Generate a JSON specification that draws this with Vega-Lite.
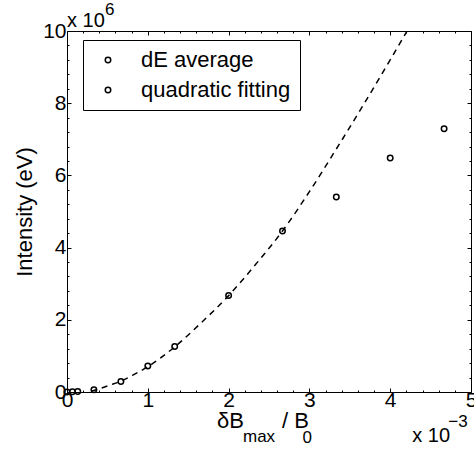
{
  "$schema": "https://vega.github.io/schema/vega-lite/v6.json",
  "width": 404,
  "height": 361,
  "autosize": {"type": "none"},
  "padding": {"left": 67, "top": 31, "right": 3, "bottom": 60},
  "background": "white",
  "config": {
    "view": {"stroke": "black", "strokeWidth": 1},
    "font": "Liberation Sans",
    "axis": {
      "domain": false,
      "grid": false,
      "labelFont": "Liberation Sans",
      "labelFontSize": 21,
      "labelColor": "black",
      "tickColor": "black",
      "tickWidth": 1,
      "labelOverlap": false,
      "labelFlush": false,
      "titleFont": "Liberation Sans",
      "titleFontSize": 22,
      "titleFontWeight": "normal",
      "titleColor": "black"
    },
    "legend": {
      "orient": "none", "legendX": 16, "legendY": 9,
      "strokeColor": "black", "fillColor": "white",
      "padding": 9, "rowPadding": 8,
      "labelFont": "Liberation Sans", "labelFontSize": 22, "labelColor": "black",
      "labelLimit": 300,
      "symbolSize": 30, "symbolStrokeWidth": 1.5, "symbolOffset": 5, "labelOffset": 22
    },
    "text": {"font": "Liberation Sans", "color": "black"}
  },
  "datasets": {
    "pts": [
      {"x": 0.0, "y": 0.0, "series": "dE average"},
      {"x": 0.067, "y": 0.005, "series": "dE average"},
      {"x": 0.133, "y": 0.015, "series": "dE average"},
      {"x": 0.333, "y": 0.06, "series": "dE average"},
      {"x": 0.667, "y": 0.29, "series": "dE average"},
      {"x": 1.0, "y": 0.72, "series": "dE average"},
      {"x": 1.333, "y": 1.26, "series": "dE average"},
      {"x": 2.0, "y": 2.67, "series": "dE average"},
      {"x": 2.667, "y": 4.46, "series": "dE average"},
      {"x": 3.333, "y": 5.40, "series": "dE average"},
      {"x": 4.0, "y": 6.48, "series": "dE average"},
      {"x": 4.667, "y": 7.29, "series": "dE average"}
    ],
    "fit": [
      {"x": 0.30, "y": 0.02, "series": "quadratic fitting"},
      {"x": 0.40, "y": 0.09, "series": "quadratic fitting"},
      {"x": 0.53, "y": 0.19, "series": "quadratic fitting"},
      {"x": 0.667, "y": 0.30, "series": "quadratic fitting"},
      {"x": 0.80, "y": 0.45, "series": "quadratic fitting"},
      {"x": 1.0, "y": 0.70, "series": "quadratic fitting"},
      {"x": 1.167, "y": 0.96, "series": "quadratic fitting"},
      {"x": 1.333, "y": 1.25, "series": "quadratic fitting"},
      {"x": 1.667, "y": 1.93, "series": "quadratic fitting"},
      {"x": 2.0, "y": 2.67, "series": "quadratic fitting"},
      {"x": 2.333, "y": 3.53, "series": "quadratic fitting"},
      {"x": 2.667, "y": 4.46, "series": "quadratic fitting"},
      {"x": 3.0, "y": 5.55, "series": "quadratic fitting"},
      {"x": 3.333, "y": 6.73, "series": "quadratic fitting"},
      {"x": 3.667, "y": 7.95, "series": "quadratic fitting"},
      {"x": 4.0, "y": 9.2, "series": "quadratic fitting"},
      {"x": 4.3, "y": 10.35, "series": "quadratic fitting"}
    ]
  },
  "resolve": {"axis": {"x": "independent", "y": "independent"}},
  "layer": [
    {
      "data": {"name": "pts"},
      "mark": {"type": "point", "shape": "circle", "filled": false, "size": 30, "strokeWidth": 1.5, "opacity": 1},
      "encoding": {
        "x": {
          "field": "x", "type": "quantitative",
          "scale": {"domain": [0, 5], "nice": false, "zero": false},
          "axis": {
            "orient": "bottom", "title": null,
            "values": [0,0.2,0.4,0.6,0.8,1,1.2,1.4,1.6,1.8,2,2.2,2.4,2.6,2.8,3,3.2,3.4,3.6,3.8,4,4.2,4.4,4.6,4.8,5],
            "labelExpr": "datum.value % 1 === 0 ? '' + datum.value : ''",
            "tickSize": {"condition": {"test": "datum.value % 1 === 0", "value": -4}, "value": -2},
            "labelPadding": 1
          }
        },
        "y": {
          "field": "y", "type": "quantitative",
          "scale": {"domain": [0, 10], "nice": false, "zero": false},
          "axis": {
            "orient": "left", "title": "Intensity (eV)",
            "values": [0,0.4,0.8,1.2,1.6,2,2.4,2.8,3.2,3.6,4,4.4,4.8,5.2,5.6,6,6.4,6.8,7.2,7.6,8,8.4,8.8,9.2,9.6,10],
            "labelExpr": "datum.value % 2 === 0 ? '' + datum.value : ''",
            "tickSize": {"condition": {"test": "datum.value % 2 === 0", "value": -4}, "value": -2},
            "labelPadding": 5,
            "titlePadding": 6
          }
        },
        "color": {
          "field": "series", "type": "nominal",
          "scale": {"domain": ["dE average", "quadratic fitting"], "range": ["black", "black"]},
          "legend": {"title": null}
        }
      }
    },
    {
      "data": {"name": "fit"},
      "mark": {"type": "line", "strokeDash": [6, 5], "strokeWidth": 1.5, "clip": true, "interpolate": "monotone"},
      "encoding": {
        "x": {
          "field": "x", "type": "quantitative",
          "axis": {
            "orient": "top", "title": null, "labels": false,
            "values": [0,0.2,0.4,0.6,0.8,1,1.2,1.4,1.6,1.8,2,2.2,2.4,2.6,2.8,3,3.2,3.4,3.6,3.8,4,4.2,4.4,4.6,4.8,5],
            "tickSize": {"condition": {"test": "datum.value % 1 === 0", "value": -4}, "value": -2}
          }
        },
        "y": {
          "field": "y", "type": "quantitative",
          "axis": {
            "orient": "right", "title": null, "labels": false,
            "values": [0,0.4,0.8,1.2,1.6,2,2.4,2.8,3.2,3.6,4,4.4,4.8,5.2,5.6,6,6.4,6.8,7.2,7.6,8,8.4,8.8,9.2,9.6,10],
            "tickSize": {"condition": {"test": "datum.value % 2 === 0", "value": -4}, "value": -2}
          }
        },
        "color": {"field": "series", "type": "nominal", "legend": null}
      }
    },
    {
      "data": {"values": [{}]},
      "mark": {"type": "text", "text": "δB", "align": "left", "baseline": "alphabetic", "dx": -11.6, "dy": 36.3, "fontSize": 22},
      "encoding": {"x": {"datum": 2, "type": "quantitative", "axis": null}, "y": {"datum": 0, "type": "quantitative", "axis": null}}
    },
    {
      "data": {"values": [{}]},
      "mark": {"type": "text", "text": "max", "align": "left", "baseline": "alphabetic", "dx": 14.4, "dy": 50, "fontSize": 17},
      "encoding": {"x": {"datum": 2, "type": "quantitative", "axis": null}, "y": {"datum": 0, "type": "quantitative", "axis": null}}
    },
    {
      "data": {"values": [{}]},
      "mark": {"type": "text", "text": "/ B", "align": "left", "baseline": "alphabetic", "dx": 53.4, "dy": 36.3, "fontSize": 22},
      "encoding": {"x": {"datum": 2, "type": "quantitative", "axis": null}, "y": {"datum": 0, "type": "quantitative", "axis": null}}
    },
    {
      "data": {"values": [{}]},
      "mark": {"type": "text", "text": "0", "align": "left", "baseline": "alphabetic", "dx": 73.9, "dy": 50.5, "fontSize": 17},
      "encoding": {"x": {"datum": 2, "type": "quantitative", "axis": null}, "y": {"datum": 0, "type": "quantitative", "axis": null}}
    },
    {
      "data": {"values": [{}]},
      "mark": {"type": "text", "text": "x 10", "align": "left", "baseline": "alphabetic", "dx": -58.7, "dy": 50.3, "fontSize": 20},
      "encoding": {"x": {"datum": 5, "type": "quantitative", "axis": null}, "y": {"datum": 0, "type": "quantitative", "axis": null}}
    },
    {
      "data": {"values": [{}]},
      "mark": {"type": "text", "text": "−3", "align": "left", "baseline": "alphabetic", "dx": -22.7, "dy": 35.3, "fontSize": 17},
      "encoding": {"x": {"datum": 5, "type": "quantitative", "axis": null}, "y": {"datum": 0, "type": "quantitative", "axis": null}}
    },
    {
      "data": {"values": [{}]},
      "mark": {"type": "text", "text": "x 10", "align": "left", "baseline": "alphabetic", "dx": 0, "dy": -4, "fontSize": 20},
      "encoding": {"x": {"datum": 0, "type": "quantitative", "axis": null}, "y": {"datum": 10, "type": "quantitative", "axis": null}}
    },
    {
      "data": {"values": [{}]},
      "mark": {"type": "text", "text": "6", "align": "left", "baseline": "alphabetic", "dx": 38, "dy": -16, "fontSize": 17},
      "encoding": {"x": {"datum": 0, "type": "quantitative", "axis": null}, "y": {"datum": 10, "type": "quantitative", "axis": null}}
    }
  ]
}
